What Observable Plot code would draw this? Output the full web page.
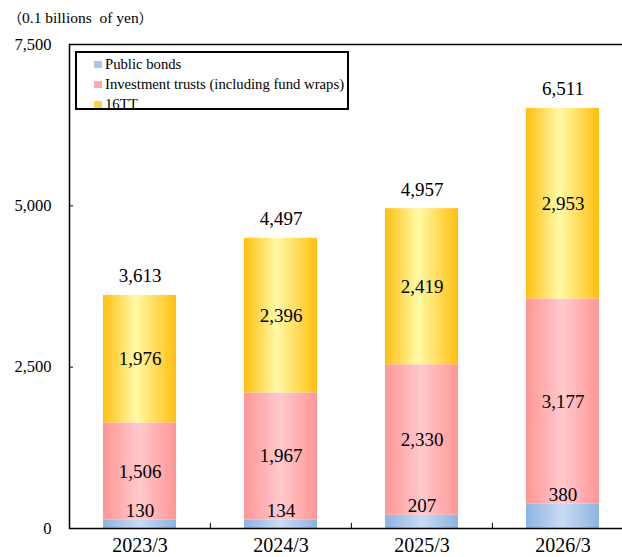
<!DOCTYPE html>
<html><head><meta charset="utf-8">
<script src="https://cdn.jsdelivr.net/npm/d3@7"></script>
<script src="https://cdn.jsdelivr.net/npm/@observablehq/plot@0.6"></script>
<style>
body{margin:0;background:#fff;font-family:"Liberation Serif","Times New Roman",serif;color:#000;}
#wrap{position:relative;width:622px;height:557px;overflow:hidden;}
#unit{position:absolute;left:8px;top:7px;font-size:15.5px;white-space:pre;font-family:"Liberation Serif",serif;}
#unit .p{font-family:"Noto Sans CJK JP",serif;font-size:14px;}
#legend{position:absolute;left:75px;top:51px;width:270px;height:55px;border:2px solid #000;font-size:14.7px;font-family:"Liberation Serif",serif;}
#legend .it{position:absolute;left:17px;height:20px;line-height:20px;white-space:nowrap;}
#legend .sw{display:inline-block;width:8px;height:7px;margin-right:3px;vertical-align:1px;}
</style></head>
<body>
<div id="wrap">
<div id="chart"></div>
<div id="unit"><span class="p">（</span>0.1 billions  of yen<span class="p">）</span></div>
<div id="legend"></div>
</div>
<script>
const categories = ["2023/3","2024/3","2025/3","2026/3"];
const seriesNames = ["Public bonds","Investment trusts (including fund wraps)","16TT"];
const publicBonds = [130,134,207,380];
const investmentTrusts = [1506,1967,2330,3177];
const tt16 = [1976,2396,2419,2953];
const totals = [3613,4497,4957,6511];
const yTicks = [0,2500,5000,7500];

const seriesValues = [publicBonds, investmentTrusts, tt16];
const rows = [];
categories.forEach((c,i)=>{
  let base = 0;
  seriesValues.forEach((vals,s)=>{
    rows.push({cat:c, series:seriesNames[s], v:vals[i], y1:base, y2:base+vals[i], mid:base+vals[i]/2});
    base += vals[i];
  });
});
const totalRows = categories.map((c,i)=>({cat:c, top: publicBonds[i]+investmentTrusts[i]+tt16[i], label: totals[i]}));
const fmt = d3.format(",");
const xRange = [69, 634];
const step = (xRange[1]-xRange[0])/categories.length;
const font = "Liberation Serif, Times New Roman, serif";

const svg = Plot.plot({
  width: 622, height: 557,
  marginTop: 44, marginBottom: 29, marginLeft: 69, marginRight: -6,
  style: {fontFamily: font, color: "#000", background: "transparent", overflow: "hidden"},
  x: {domain: categories, range: xRange, paddingInner: 0.48, paddingOuter: 0.24, label: null},
  y: {domain: [0, 7500], label: null},
  color: {domain: seriesNames, range: ["url(#gBlue)","url(#gPink)","url(#gYellow)"]},
  marks: [
    Plot.barY(rows, {x: "cat", y1: "y1", y2: "y2", fill: "series"}),
    Plot.text(rows.filter(d=>d.series!==seriesNames[0]), {x: "cat", y: "mid", text: d=>fmt(d.v), fontSize: 19, fontFamily: font, fill: "#000"}),
    Plot.text(rows.filter(d=>d.series===seriesNames[0]), {x: "cat", y: "y2", text: d=>fmt(d.v), dy: -9, fontSize: 19, fontFamily: font, fill: "#000"}),
    Plot.text(totalRows, {x: "cat", y: "top", text: d=>fmt(d.label), dy: -19, fontSize: 19, fontFamily: font, fill: "#000"}),
    Plot.frame({stroke: "#000", strokeWidth: 1.5}),
    Plot.ruleX(categories.slice(1), {x: d=>d, y1: 0, y2: 80, dx: -step/2, stroke: "#000", strokeWidth: 1}),
    Plot.axisY({ticks: yTicks, tickFormat: fmt, tickSize: -4, tickPadding: 22, fontSize: 16.5, fontFamily: font, label: null}),
    Plot.axisX({tickSize: 0, tickPadding: 9, fontSize: 20, fontFamily: font, label: null})
  ]
});

d3.select(svg).insert("defs", ":first-child").html(`
<linearGradient id="gBlue" x1="0" x2="1" y1="0" y2="0">
 <stop offset="0" stop-color="#8DB3E2"/><stop offset="0.5" stop-color="#C9DBF2"/><stop offset="1" stop-color="#8DB3E2"/>
</linearGradient>
<linearGradient id="gPink" x1="0" x2="1" y1="0" y2="0">
 <stop offset="0" stop-color="#FF9696"/><stop offset="0.5" stop-color="#FFC9CD"/><stop offset="1" stop-color="#FF9696"/>
</linearGradient>
<linearGradient id="gYellow" x1="0" x2="1" y1="0" y2="0">
 <stop offset="0" stop-color="#FFBF0F"/><stop offset="0.45" stop-color="#FFFAA8"/><stop offset="1" stop-color="#FFBF0F"/>
</linearGradient>`);
document.getElementById("chart").appendChild(svg);

const legendColors = ["#A9C6EA","#FFAAAA","#FFD23F"];
const legend = document.getElementById("legend");
seriesNames.forEach((n,i)=>{
  const it = document.createElement("div");
  it.className = "it";
  it.style.top = (1 + i*20) + "px";
  it.innerHTML = `<span class="sw" style="background:${legendColors[i]}"></span>${n}`;
  legend.appendChild(it);
});
</script>
</body></html>
